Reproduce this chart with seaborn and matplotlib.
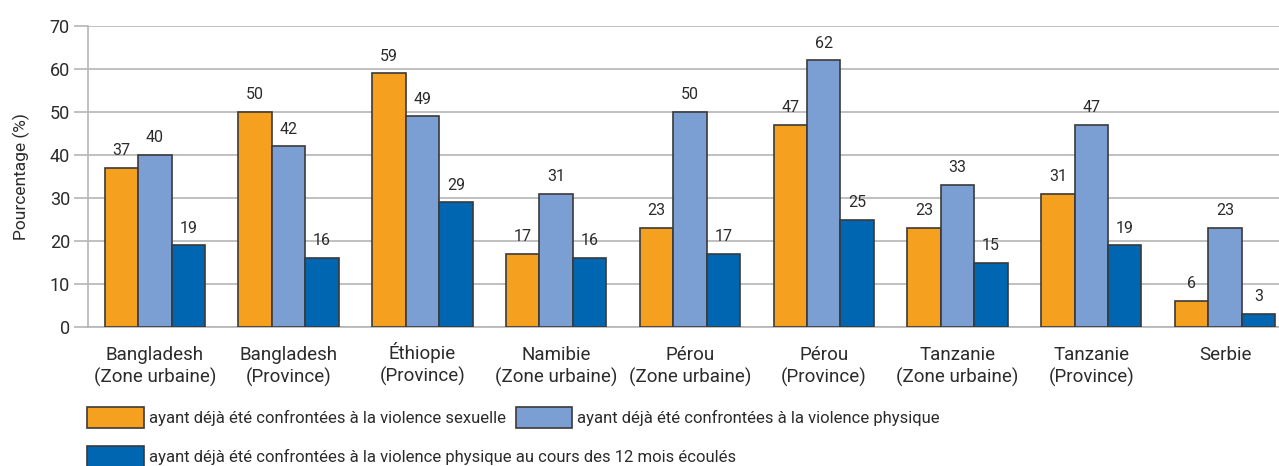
import matplotlib
matplotlib.use("Agg")
import matplotlib.pyplot as plt
import matplotlib.transforms as mtransforms
import seaborn as sns
import pandas as pd
from matplotlib.patches import Patch

regions = ["Bangladesh\n(Zone urbaine)", "Bangladesh\n(Province)", "Éthiopie\n(Province)",
           "Namibie\n(Zone urbaine)", "Pérou\n(Zone urbaine)", "Pérou\n(Province)",
           "Tanzanie\n(Zone urbaine)", "Tanzanie\n(Province)", "Serbie"]
series_names = ["ayant déjà été confrontées à la violence sexuelle",
                "ayant déjà été confrontées à la violence physique",
                "ayant déjà été confrontées à la violence physique au cours des 12 mois écoulés"]
sexuelle = [37, 50, 59, 17, 23, 47, 23, 31, 6]
physique = [40, 42, 49, 31, 50, 62, 33, 47, 23]
physique_12m = [19, 16, 29, 16, 17, 25, 15, 19, 3]
colors = ["#F5A01F", "#7C9FD3", "#0066B2"]
yticks = [0, 10, 20, 30, 40, 50, 60, 70]

rows = []
for name, vals in zip(series_names, [sexuelle, physique, physique_12m]):
    for r, v in zip(regions, vals):
        rows.append({"region": r, "serie": name, "value": v})
df = pd.DataFrame(rows)

sns.set_theme(style="white")
plt.rcParams['font.family'] = ['Roboto', 'DejaVu Sans']
text_color = "#2b2b2b"

fig = plt.figure(figsize=(12.79, 4.66), dpi=100)
ax = fig.add_axes([88/1279, 1-327/466, 1-88/1279, (327-26)/466])

sns.barplot(data=df, x="region", y="value", hue="serie", order=regions,
            hue_order=series_names, palette=colors, saturation=1, width=0.75,
            edgecolor="#3a3a3a", linewidth=1.2, ax=ax, legend=False, zorder=3)

for cont in ax.containers:
    ax.bar_label(cont, padding=7, fontsize=11.5, color=text_color)

ax.set_ylim(0, 70)
ax.set_yticks(yticks)
ax.set_xlim(-0.5, 8.5 - 13/134)
ax.yaxis.grid(True, color="#b5b5b5", linewidth=1.2, zorder=0)
ax.set_axisbelow(True)
for s in ["top", "right"]:
    ax.spines[s].set_visible(False)
ax.spines["left"].set_color("#b5b5b5")
ax.spines["left"].set_linewidth(1.2)
ax.spines["bottom"].set_color("#b5b5b5")
ax.spines["bottom"].set_linewidth(1.2)
ax.tick_params(axis="y", length=10, width=1.2, color="#b5b5b5", labelsize=13,
               labelcolor=text_color, pad=3, left=True)
ax.tick_params(axis="x", length=0, labelsize=13.5, labelcolor=text_color, pad=14)
ax.set_xlabel("")
ax.set_ylabel("Pourcentage (%)", fontsize=12.5, color=text_color, labelpad=14)

# keep accented label on same baseline as the others
for lab in ax.get_xticklabels():
    if lab.get_text().startswith("É"):
        lab.set_transform(lab.get_transform() +
                          mtransforms.ScaledTranslation(0, 4/100, fig.dpi_scale_trans))

handles = [Patch(facecolor=c, edgecolor="#3a3a3a", linewidth=1.2) for c in colors]
leg_kw = dict(loc="upper left", frameon=False, fontsize=12, handlelength=3.4,
              handleheight=1.6, columnspacing=0.6, handletextpad=0.3,
              labelcolor=text_color, borderaxespad=0, borderpad=0.3)
leg1 = fig.legend(handles[:2], series_names[:2], ncol=2,
                  bbox_to_anchor=(82/1279, 1-402/466), **leg_kw)
leg2 = fig.legend(handles[2:], series_names[2:], ncol=1,
                  bbox_to_anchor=(82/1279, 1-441/466), **leg_kw)

fig.savefig("out.png", dpi=100)
